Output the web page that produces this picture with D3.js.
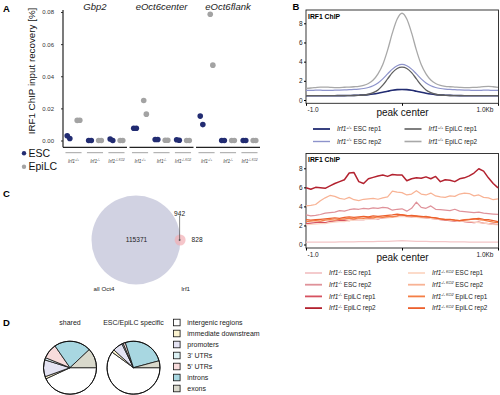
<!DOCTYPE html>
<html>
<head>
<meta charset="utf-8">
<script src="https://cdn.jsdelivr.net/npm/d3@7"></script>
<style>
  body { margin: 0; background: #fff; }
  svg { display: block; }
</style>
</head>
<body>
<svg width="500" height="395"></svg>
<script>
const FONT = '"Liberation Sans", Arial, Helvetica, sans-serif';

// ---------- A: ChIP-qPCR input recovery ----------
const targets = ["Gbp2", "eOct6center", "eOct6flank"];
const genotypes = ["+/+", "-/-", "-/- KO2"];
const cellTypes = ["ESC", "EpiLC"];
const replicates = ["rep1", "rep2"];
const recoveryTicks = [0, 0.02, 0.04, 0.06, 0.08];
// per genotype: [ESC rep1/rep2], [EpiLC rep1/rep2]
const gbp2Recovery = [[[0.003, 0.0012], [0.0125, 0.0126]], [[0, 0], [0, 0]], [[0.0009, 0], [0, 0]]];
const centerRecovery = [[[0.0076, 0.0076], [0.0249, 0.0164]], [[0.0006, 0.0006], [0.0002, 0.0002]], [[0.0005, 0.0002], [0, 0]]];
const flankRecovery = [[[0.0152, 0.0099], [0.0786, 0.0469]], [[0, 0], [0, 0]], [[0, 0], [0, 0]]];

// ---------- B: IRF1 ChIP-seq profiles (-1kb .. +1kb, 50bp bins) ----------
const profilePositions = d3.range(-1000, 1001, 50);
const profileTicks = [-1000, 0, 1000];
const profileTickLabels = ["-1.0", "peak center", "1.0Kb"];
const signalTicks = [0, 2, 4, 6, 8];

const wtEscRep1 = [0.45, 0.45, 0.45, 0.45, 0.45, 0.45, 0.45, 0.46, 0.46, 0.47, 0.48, 0.5, 0.52, 0.56, 0.62, 0.7, 0.8, 0.91, 1.01, 1.08, 1.1,
  1.08, 1.01, 0.91, 0.8, 0.7, 0.62, 0.56, 0.52, 0.5, 0.48, 0.47, 0.46, 0.45, 0.45, 0.45, 0.45, 0.45, 0.45, 0.45, 0.45];
const wtEscRep2 = [1.0, 1.0, 1.02, 1.02, 1.0, 1.0, 1.02, 1.03, 1.05, 1.08, 1.1, 1.14, 1.2, 1.3, 1.48, 1.78, 2.2, 2.72, 3.22, 3.58, 3.72,
  3.58, 3.22, 2.72, 2.2, 1.78, 1.48, 1.3, 1.2, 1.14, 1.1, 1.08, 1.05, 1.03, 1.02, 1.0, 1.0, 1.02, 1.02, 1.0, 1.0];
const wtEpiRep1 = [0.45, 0.45, 0.45, 0.45, 0.45, 0.45, 0.45, 0.45, 0.45, 0.46, 0.47, 0.49, 0.52, 0.6, 0.76, 1.05, 1.55, 2.2, 2.85, 3.28, 3.42,
  3.28, 2.85, 2.2, 1.55, 1.05, 0.76, 0.6, 0.52, 0.49, 0.47, 0.46, 0.45, 0.45, 0.45, 0.45, 0.45, 0.45, 0.45, 0.45, 0.45];
const wtEpiRep2 = [1.22, 1.25, 1.3, 1.35, 1.35, 1.32, 1.3, 1.3, 1.33, 1.35, 1.38, 1.42, 1.52, 1.72, 2.08, 2.72, 3.7, 5.2, 7.0, 8.45, 9.05,
  8.45, 7.0, 5.2, 3.7, 2.72, 2.08, 1.72, 1.52, 1.42, 1.38, 1.35, 1.32, 1.3, 1.3, 1.32, 1.35, 1.4, 1.42, 1.38, 1.32];

const koEscRep1 = [0.25, 0.25, 0.26, 0.25, 0.25, 0.26, 0.26, 0.27, 0.27, 0.28, 0.28, 0.29, 0.3, 0.3, 0.31, 0.32, 0.33, 0.34, 0.36, 0.38, 0.4,
  0.38, 0.36, 0.34, 0.33, 0.32, 0.31, 0.3, 0.3, 0.29, 0.28, 0.28, 0.27, 0.27, 0.26, 0.26, 0.25, 0.25, 0.25, 0.25, 0.25];
const koEscRep2 = [3.1, 3.0, 3.05, 3.15, 3.3, 3.35, 3.4, 3.55, 3.5, 3.65, 3.75, 3.7, 3.8, 3.75, 3.85, 3.8, 3.9, 3.85, 3.6, 3.7,
  3.75, 3.5, 3.8, 4.45, 3.9, 3.8, 4.05, 3.7, 3.65, 3.6, 3.55, 3.7, 3.5, 3.45, 3.4, 3.35, 3.4, 3.3, 3.25, 3.2, 3.15];
const koEpiRep1 = [2.2, 2.25, 2.3, 2.35, 2.3, 2.4, 2.45, 2.5, 2.55, 2.5, 2.6, 2.65, 2.6, 2.7, 2.75, 2.7, 2.8, 2.85, 2.9, 2.95,
  3.0, 2.95, 2.9, 2.95, 2.85, 2.8, 2.75, 2.7, 2.6, 2.55, 2.5, 2.45, 2.5, 2.4, 2.35, 2.3, 2.35, 2.25, 2.2, 2.15, 2.1];
const koEpiRep2 = [5.95, 5.8, 6.0, 5.95, 5.9, 6.15, 6.4, 6.6, 6.8, 7.5, 7.55, 6.6, 6.4, 6.9, 7.05, 7.2, 7.3, 7.15, 7.35, 7.3,
  7.3, 6.7, 6.9, 7.0, 6.95, 7.1, 6.9, 7.15, 6.6, 6.8, 6.75, 6.6, 6.9, 7.0, 7.2, 7.5, 7.95, 7.7, 7.0, 6.4, 5.95];
const ko2EscRep1 = [2.05, 2.1, 2.15, 2.2, 2.2, 2.3, 2.35, 2.4, 2.4, 2.5, 2.55, 2.6, 2.6, 2.65, 2.7, 2.75, 2.8, 2.8, 2.85, 2.9,
  2.95, 2.9, 2.9, 2.85, 2.8, 2.8, 2.75, 2.7, 2.65, 2.6, 2.55, 2.5, 2.45, 2.45, 2.4, 2.35, 2.3, 2.25, 2.2, 2.1, 2.05];
const ko2EscRep2 = [4.05, 4.1, 4.2, 4.6, 4.9, 5.15, 5.05, 4.85, 4.75, 4.95, 4.7, 4.6, 4.75, 4.8, 4.85, 4.75, 4.9, 5.0, 5.6, 5.5,
  5.45, 5.2, 5.3, 5.65, 5.3, 5.2, 5.4, 5.1, 5.0, 4.95, 5.1, 5.05, 5.3, 5.4, 5.35, 5.1, 5.2, 4.95, 4.9, 4.7, 4.8];
const ko2EpiRep1 = [2.4, 2.45, 2.5, 2.45, 2.55, 2.6, 2.55, 2.65, 2.7, 2.75, 2.7, 2.8, 2.75, 2.85, 2.8, 2.9, 2.85, 2.95, 2.9, 3.0,
  3.15, 3.05, 3.0, 2.95, 2.9, 2.95, 2.85, 2.8, 2.7, 2.65, 2.6, 2.55, 2.5, 2.6, 2.65, 2.7, 2.6, 2.55, 2.45, 2.35, 2.3];
const ko2EpiRep2 = [2.6, 2.55, 2.6, 2.65, 2.7, 2.75, 2.8, 2.75, 2.85, 2.9, 2.85, 2.9, 2.95, 2.9, 3.0, 2.95, 3.0, 3.05, 3.1, 3.2,
  3.1, 3.0, 3.05, 3.0, 2.95, 2.9, 2.85, 2.8, 2.7, 2.6, 2.65, 2.55, 2.5, 2.55, 2.6, 2.7, 2.75, 2.65, 2.6, 2.5, 2.4];

const wtSeries = [
  { genotype: "+/+", label: "ESC rep1", values: wtEscRep1 },
  { genotype: "+/+", label: "ESC rep2", values: wtEscRep2 },
  { genotype: "+/+", label: "EpiLC rep1", values: wtEpiRep1 },
  { genotype: "+/+", label: "EpiLC rep2", values: wtEpiRep2 },
];
const koSeries = [
  { genotype: "-/-", label: "ESC rep1", values: koEscRep1 },
  { genotype: "-/-", label: "ESC rep2", values: koEscRep2 },
  { genotype: "-/-", label: "EpiLC rep1", values: koEpiRep1 },
  { genotype: "-/-", label: "EpiLC rep2", values: koEpiRep2 },
  { genotype: "-/- KO2", label: "ESC rep1", values: ko2EscRep1 },
  { genotype: "-/- KO2", label: "ESC rep2", values: ko2EscRep2 },
  { genotype: "-/- KO2", label: "EpiLC rep1", values: ko2EpiRep1 },
  { genotype: "-/- KO2", label: "EpiLC rep2", values: ko2EpiRep2 },
];
const wtColors = ["#222c72", "#8d93cb", "#5f5f5f", "#a8a8a8"];
const wtWidths = [1.6, 1.2, 1.3, 1.3];
const koColors = ["#f3c6c8", "#df929a", "#d65260", "#b3222f", "#fcd7c5", "#f8b395", "#f47e45", "#ec602d"];

// ---------- C: peak overlap ----------
const vennSets = ["all Oct4", "Irf1"];
const vennCounts = [115371, 942, 828]; // Oct4 only, shared, Irf1 only

// ---------- D: genomic distribution ----------
const regionNames = ["intergenic regions", "immediate downstream", "promoters", "3' UTRs", "5' UTRs", "introns", "exons"];
const pieTitles = ["shared", "ESC/EpiLC specific"];
const sharedShares = [43.1, 1.4, 10.3, 1.4, 9.2, 22.6, 12.0];
const specificShares = [60.0, 1.7, 6.1, 0.8, 1.4, 25.8, 4.2];
const regionColors = ["#ffffff", "#fbf3cf", "#e4e3f3", "#dcf1f4", "#f8dcdc", "#a8d7e1", "#d9d9cc"];

const svg = d3.select("svg").attr("font-family", FONT);

// panel letters
const panelLetter = (x, y, t) =>
  svg.append("text").attr("x", x).attr("y", y).attr("font-size", 9.5).attr("font-weight", "bold").text(t);
panelLetter(3, 12, "A");
panelLetter(292.5, 9.5, "B");
panelLetter(3, 197, "C");
panelLetter(3, 326, "D");

// "Irf1" + superscript genotype + rest
const genotypeText = (sel, genotype, rest, size) => {
  sel.append("tspan").attr("font-style", "italic").text("Irf1");
  sel.append("tspan").attr("font-style", "italic").attr("font-size", size * 0.6).attr("dy", -size * 0.38).text(genotype);
  if (rest) sel.append("tspan").attr("dy", size * 0.38).text(" " + rest);
};

// ================= Panel A =================
const recoveryPoints = [gbp2Recovery, centerRecovery, flankRecovery].flatMap((byGenotype, t) =>
  byGenotype.flatMap((byCell, g) =>
    byCell.flatMap((reps, c) =>
      reps.map((value, r) => ({
        target: targets[t], genotype: genotypes[g], cell: cellTypes[c], rep: replicates[r], value,
      })))));

const targetX = d3.scaleBand().domain(targets).range([63, 260]).paddingInner(0.038);
const genotypeX = d3.scaleBand().domain(genotypes).range([0, targetX.bandwidth()])
  .paddingInner(0.25).paddingOuter(0.115);
const cellX = d3.scaleBand().domain(cellTypes).range([-10, 10]);
const repX = d3.scalePoint().domain(replicates).range([-1.3, 1.3]);
const recoveryY = d3.scaleLinear().domain([0, 0.08]).range([140.5, 12]);
const cellColor = d3.scaleOrdinal().domain(cellTypes).range(["#222c72", "#a3a3a3"]);
const AXIS_A = 147.3;

const gA = svg.append("g");
gA.append("g")
  .attr("transform", "translate(63,0)")
  .call(d3.axisLeft(recoveryY).tickValues(recoveryTicks).tickFormat(d3.format(".2f")).tickSize(2).tickPadding(7))
  .call((g) => g.select(".domain").remove())
  .call((g) => g.attr("font-family", FONT))
  .call((g) => g.selectAll("line").attr("stroke", "#333"))
  .call((g) => g.selectAll("text").attr("font-size", 6).attr("fill", "#333"));
gA.append("line").attr("x1", 63).attr("x2", 63).attr("y1", 10).attr("y2", AXIS_A)
  .attr("stroke", "#222").attr("stroke-width", 1.2);

gA.append("text")
  .attr("transform", "translate(35,71) rotate(-90)")
  .attr("text-anchor", "middle").attr("font-size", 9.8).attr("fill", "#111")
  .text("IRF1 ChIP input recovery [%]");

gA.selectAll(".target-axis").data(targets).join("line")
  .attr("x1", (d) => targetX(d)).attr("x2", (d) => targetX(d) + targetX.bandwidth())
  .attr("y1", AXIS_A).attr("y2", AXIS_A).attr("stroke", "#222").attr("stroke-width", 1.3);

gA.selectAll(".target-title").data(targets).join("text")
  .attr("x", (d) => targetX(d) + targetX.bandwidth() / 2).attr("y", 9.5)
  .attr("text-anchor", "middle").attr("font-size", 9.5).attr("font-style", "italic").attr("fill", "#222")
  .text((d) => d);

const genotypeCells = targets.flatMap((t) => genotypes.map((g) => ({ target: t, genotype: g })));
gA.selectAll(".geno-line").data(genotypeCells).join("line")
  .attr("x1", (d) => targetX(d.target) + genotypeX(d.genotype))
  .attr("x2", (d) => targetX(d.target) + genotypeX(d.genotype) + genotypeX.bandwidth())
  .attr("y1", 152.7).attr("y2", 152.7).attr("stroke", "#8a8a8a").attr("stroke-width", 0.8);
gA.selectAll(".geno-label").data(genotypeCells).join("text")
  .attr("x", (d) => targetX(d.target) + genotypeX(d.genotype) + genotypeX.bandwidth() / 2)
  .attr("y", 162.5).attr("text-anchor", "middle").attr("font-size", 4.8).attr("fill", "#444")
  .each(function (d) { genotypeText(d3.select(this), d.genotype, null, 4.8); });

gA.selectAll("circle.pt").data(recoveryPoints).join("circle")
  .attr("class", "pt")
  .attr("cx", (d) => targetX(d.target) + genotypeX(d.genotype) + genotypeX.bandwidth() / 2
    + cellX(d.cell) + cellX.bandwidth() / 2 + repX(d.rep))
  .attr("cy", (d) => recoveryY(d.value))
  .attr("r", 2.8)
  .attr("fill", (d) => cellColor(d.cell));

const legendA = gA.selectAll(".legA").data(cellTypes).join("g")
  .attr("transform", (d, i) => `translate(24,${153.3 + i * 13.4})`);
legendA.append("circle").attr("r", 2.2).attr("fill", (d) => cellColor(d));
legendA.append("text").attr("x", 4.5).attr("y", 3.6).attr("font-size", 10.5).attr("fill", "#111").text((d) => d);

// ================= Panel B =================
const profileX = d3.scaleLinear().domain([-1000, 1000]).range([306, 498]);

const drawProfile = (series, colors, widths, yRange, box, curve) => {
  const y = d3.scaleLinear().domain([0, 8]).range(yRange);
  const g = svg.append("g");
  g.append("rect").attr("x", 306).attr("y", box[0]).attr("width", 192.5).attr("height", box[1] - box[0])
    .attr("fill", "none").attr("stroke", "#222").attr("stroke-width", 0.9);
  const line = d3.line().x((d, i) => profileX(profilePositions[i])).y((d) => y(d)).curve(curve);
  g.selectAll("path.profile").data(series).join("path")
    .attr("class", "profile")
    .attr("d", (d) => line(d.values))
    .attr("fill", "none")
    .attr("stroke", (d, i) => colors[i])
    .attr("stroke-width", (d, i) => widths[i])
    .attr("stroke-linejoin", "round");
  g.append("g").attr("transform", "translate(306,0)")
    .call(d3.axisLeft(y).tickValues(signalTicks).tickSize(2).tickPadding(1.5))
    .call((a) => a.select(".domain").remove())
    .call((a) => a.attr("font-family", FONT))
    .call((a) => a.selectAll("text").attr("font-size", 6.5).attr("fill", "#222"));
  g.append("g").attr("transform", `translate(0,${box[1]})`)
    .call(d3.axisBottom(profileX).tickValues(profileTicks).tickFormat((d, i) => profileTickLabels[i])
      .tickSize(2.5).tickPadding(1.5))
    .call((a) => a.select(".domain").remove())
    .call((a) => a.attr("font-family", FONT))
    .call((a) => a.selectAll("text").attr("font-size", 6.5).attr("fill", "#222")
      .attr("text-anchor", (d, i) => ["start", "middle", "end"][i])
      .attr("dx", (d, i) => [1, 0, -5][i]))
    .call((a) => a.selectAll(".tick").filter((d) => d === 0).select("text")
      .attr("font-size", 10).attr("y", 6).attr("fill", "#111"));
  g.append("text").attr("x", 308).attr("y", box[0] + 8.5).attr("font-size", 6.8).attr("font-weight", "bold")
    .text("IRF1 ChIP");
};

const drawLegend = (series, colors, widths, rows, top, rowStep, cols) => {
  const g = svg.append("g");
  const item = g.selectAll("g").data(series).join("g")
    .attr("transform", (d, i) => `translate(${cols[Math.floor(i / rows)]},${top + (i % rows) * rowStep})`);
  item.append("line").attr("x1", 0).attr("x2", 17).attr("y1", 0).attr("y2", 0)
    .attr("stroke", (d, i) => colors[i]).attr("stroke-width", (d, i) => widths[i]);
  item.append("text").attr("x", 24).attr("y", 2.2).attr("font-size", 6.4).attr("fill", "#222")
    .each(function (d) { genotypeText(d3.select(this), d.genotype, d.label, 6.4); });
};

drawProfile(wtSeries, wtColors, wtWidths, [100, 23.3], [10, 103.3], d3.curveMonotoneX);
drawLegend(wtSeries, wtColors, [1.8, 1.4, 1.6, 1.6], 2, 129, 12.5, [313, 404.5]);

const koWidths = koSeries.map((d, i) => (i === 3 ? 1.5 : 1.25));
drawProfile(koSeries, koColors, koWidths, [244.5, 168.3], [153.5, 248], d3.curveLinear);
drawLegend(koSeries, koColors, koSeries.map(() => 1.8), 4, 273, 11.7, [305, 408]);

// ================= Panel C =================
const oct4Total = vennCounts[0] + vennCounts[1];
const irf1Total = vennCounts[1] + vennCounts[2];
const vennR = d3.scaleSqrt().domain([0, oct4Total]).range([0, 44.5]);
const bigR = vennR(oct4Total);
const smallR = vennR(irf1Total);
const lensArea = (d) => {
  const R = bigR, r = smallR;
  return r * r * Math.acos((d * d + r * r - R * R) / (2 * d * r))
    + R * R * Math.acos((d * d + R * R - r * r) / (2 * d * R))
    - 0.5 * Math.sqrt((-d + r + R) * (d + r - R) * (d - r + R) * (d + r + R));
};
const sharedArea = Math.PI * smallR * smallR * vennCounts[1] / irf1Total;
let lo = bigR - smallR + 1e-6, hi = bigR + smallR - 1e-6;
for (let i = 0; i < 50; i++) {
  const mid = (lo + hi) / 2;
  if (lensArea(mid) > sharedArea) lo = mid; else hi = mid;
}
const centerDist = (lo + hi) / 2;
const vennCx = 136, vennCy = 240;
const smallCx = vennCx + centerDist;

const gC = svg.append("g");
gC.append("circle").attr("cx", vennCx).attr("cy", vennCy).attr("r", bigR).attr("fill", "#d1d2e2");
gC.append("circle").attr("cx", smallCx).attr("cy", vennCy).attr("r", smallR)
  .attr("fill", "#f2aeb4").attr("fill-opacity", 0.7);
gC.append("line").attr("x1", smallCx - 0.5).attr("x2", smallCx - 0.5).attr("y1", 215.5).attr("y2", vennCy)
  .attr("stroke", "#333").attr("stroke-width", 0.6);
gC.append("circle").attr("cx", smallCx - 0.5).attr("cy", vennCy).attr("r", 0.9).attr("fill", "#555");
const vennText = (x, y, t, size) =>
  gC.append("text").attr("x", x).attr("y", y).attr("text-anchor", "middle").attr("font-size", size)
    .attr("fill", "#222").text(t);
vennText(vennCx + 0.5, vennCy + 2.3, vennCounts[0], 6.6);
vennText(smallCx - 0.5, 215.5, vennCounts[1], 6.6);
vennText(smallCx + 17, vennCy + 2.3, vennCounts[2], 6.6);
vennText(vennCx - 32, 290.5, vennSets[0], 6.2);
vennText(smallCx + 5.5, 290.5, vennSets[1], 6.2);

// ================= Panel D =================
const pie = d3.pie().sort(null).startAngle(Math.PI / 2).endAngle(Math.PI / 2 + 2 * Math.PI);
const arc = d3.arc().innerRadius(0).outerRadius(26.5);
const pieX = d3.scalePoint().domain(pieTitles).range([70, 133.5]);
const gD = svg.append("g");
[sharedShares, specificShares].forEach((shares, k) => {
  const g = gD.append("g").attr("transform", `translate(${pieX(pieTitles[k])},367.7)`);
  g.selectAll("path").data(pie(shares)).join("path")
    .attr("d", arc)
    .attr("fill", (d, i) => regionColors[i])
    .attr("stroke", "#111").attr("stroke-width", 0.8).attr("stroke-linejoin", "round");
  g.append("circle").attr("r", 26.5).attr("fill", "none").attr("stroke", "#111").attr("stroke-width", 1);
  g.append("text").attr("y", -43).attr("text-anchor", "middle").attr("font-size", 7).attr("fill", "#222")
    .text(pieTitles[k]);
});
const legendY = d3.scaleBand().domain(regionNames).range([317, 394]);
const legD = gD.selectAll(".legD").data(regionNames).join("g")
  .attr("transform", (d) => `translate(173.5,${legendY(d) + legendY.bandwidth() / 2})`);
legD.append("rect").attr("x", 0).attr("y", -3.3).attr("width", 6.6).attr("height", 6.6)
  .attr("fill", (d, i) => regionColors[i]).attr("stroke", "#111").attr("stroke-width", 0.8);
legD.append("text").attr("x", 13.8).attr("y", 2.4).attr("font-size", 7).attr("fill", "#222").text((d) => d);
</script>
</body>
</html>
